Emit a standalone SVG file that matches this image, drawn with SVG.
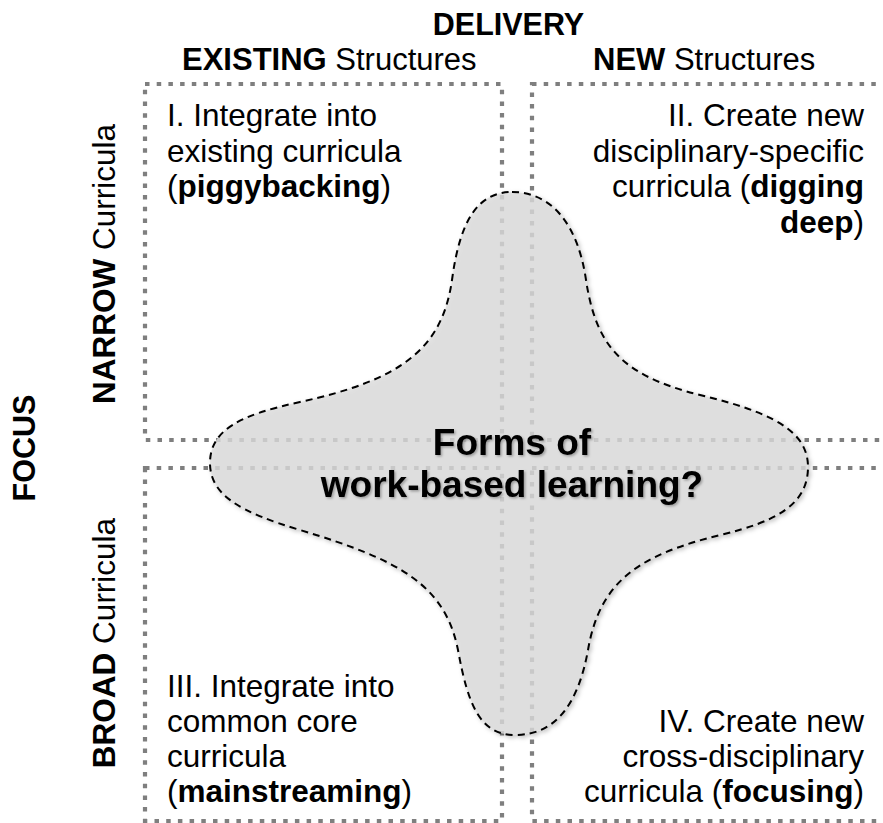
<svg xmlns="http://www.w3.org/2000/svg" width="883" height="823" viewBox="0 0 883 823">
  <defs>
    <style>
      text { font-family: "Liberation Sans", Arial, sans-serif; fill: #000; }
      .hdr { font-size: 31px; }
      .title { font-size: 30.5px; font-weight: bold; }
      .side { font-size: 31.5px; }
      .q { font-size: 31.5px; }
      .b { font-weight: bold; }
      .frame { fill: none; stroke: #7f7f7f; stroke-width: 4.2; stroke-dasharray: 4.5 7.2; }
      .blob { fill: #dcdcdc; fill-opacity: 0.78; stroke: #000; stroke-width: 2; stroke-dasharray: 7 5; }
      .center { font-size: 37px; font-weight: bold; text-anchor: middle; }
    </style>
    <filter id="blobShadow" x="-10%" y="-10%" width="125%" height="125%">
      <feDropShadow dx="2" dy="2" stdDeviation="2" flood-color="#000" flood-opacity="0.25"/>
    </filter>
    <filter id="textShadow" x="-5%" y="-20%" width="115%" height="150%">
      <feDropShadow dx="1.5" dy="1.5" stdDeviation="1" flood-color="#000" flood-opacity="0.3"/>
    </filter>
  </defs>

  <rect width="883" height="823" fill="#fff"/>

  <!-- axis headings -->
  <g id="axis-delivery">
    <text class="title" x="508.5" y="35" text-anchor="middle">DELIVERY</text>
    <text class="hdr" x="182" y="70"><tspan class="b">EXISTING</tspan> Structures</text>
    <text class="hdr" x="593" y="70"><tspan class="b">NEW</tspan> Structures</text>
  </g>
  <g id="axis-focus">
    <text class="title" transform="translate(35,448) rotate(-90)" text-anchor="middle">FOCUS</text>
    <text class="side" transform="translate(115,264) rotate(-90)" text-anchor="middle"><tspan class="b">NARROW</tspan> Curricula</text>
    <text class="side" transform="translate(115,643) rotate(-90)" text-anchor="middle"><tspan class="b">BROAD</tspan> Curricula</text>
  </g>

  <!-- dotted quadrant frames -->
  <g id="connectors">
    <rect class="frame" x="145" y="84" width="357" height="356"/>
    <rect class="frame" x="532" y="84" width="370" height="356"/>
    <rect class="frame" x="145" y="468" width="357" height="353"/>
    <rect class="frame" x="532" y="468" width="370" height="353"/>
  </g>

  <g id="quadrant-1">
    <text class="q" x="167" y="126">I. Integrate into</text>
    <text class="q" x="167" y="161.5">existing curricula</text>
    <text class="q" x="167" y="197">(<tspan class="b">piggybacking</tspan>)</text>
  </g>
  <g id="quadrant-2" text-anchor="end">
    <text class="q" x="864" y="126">II. Create new</text>
    <text class="q" x="864" y="161.5">disciplinary-specific</text>
    <text class="q" x="864" y="197">curricula (<tspan class="b">digging</tspan></text>
    <text class="q" x="864" y="232.5"><tspan class="b">deep</tspan>)</text>
  </g>
  <g id="quadrant-3">
    <text class="q" x="167" y="697">III. Integrate into</text>
    <text class="q" x="167" y="732">common core</text>
    <text class="q" x="167" y="767">curricula</text>
    <text class="q" x="167" y="802">(<tspan class="b">mainstreaming</tspan>)</text>
  </g>
  <g id="quadrant-4" text-anchor="end">
    <text class="q" x="864" y="732">IV. Create new</text>
    <text class="q" x="864" y="767">cross-disciplinary</text>
    <text class="q" x="864" y="802">curricula (<tspan class="b">focusing</tspan>)</text>
  </g>

  <!-- central four-lobed question shape -->
  <g id="center-node">
    <path class="blob" filter="url(#blobShadow)" d="M 512,192 C 552,192 578,225 586,280 C 596,345 620,375 700,395 C 770,412 808,430 808,467 C 808,505 775,522 720,535 C 640,555 600,580 588,650 C 578,705 555,735 515,735 C 480,735 468,705 458,650 C 445,585 400,560 300,530 C 240,512 210,495 210,463 C 210,430 240,415 300,402 C 400,380 442,350 452,280 C 460,220 478,192 512,192 Z"/>
    <g filter="url(#textShadow)">
      <text class="center" x="512" y="455">Forms of</text>
      <text class="center" x="512" y="497">work-based learning?</text>
    </g>
  </g>
</svg>
